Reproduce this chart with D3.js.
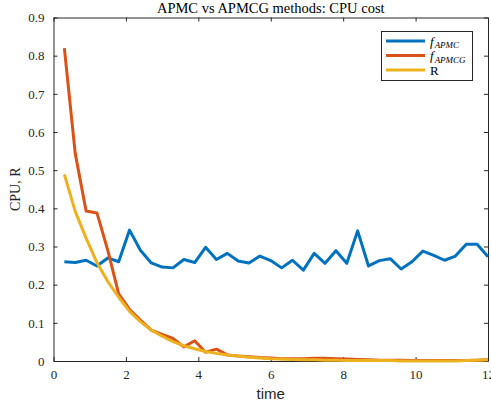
<!DOCTYPE html>
<html><head><meta charset="utf-8">
<script src="https://cdn.jsdelivr.net/npm/d3@7"></script>
<style>body{margin:0;background:#fff}svg{display:block}</style>
</head><body><svg id="c" width="491" height="407"></svg>
<script>
const time = [0.3,0.6,0.9,1.2,1.5,1.8,2.1,2.4,2.7,3.0,3.3,3.6,3.9,4.2,4.5,4.8,5.1,5.4,5.7,6.0,
  6.3,6.6,6.9,7.2,7.5,7.8,8.1,8.4,8.7,9.0,9.3,9.6,9.9,10.2,10.5,10.8,11.1,11.4,11.7,12.0];
const fAPMC = [0.260,0.258,0.264,0.249,0.270,0.260,0.343,0.290,0.257,0.246,0.244,0.266,0.258,0.298,0.266,0.282,0.262,0.257,0.275,0.263,
  0.244,0.264,0.238,0.282,0.256,0.289,0.256,0.341,0.249,0.263,0.268,0.241,0.260,0.288,0.277,0.264,0.275,0.306,0.306,0.273];
const fAPMCG = [0.820,0.544,0.393,0.388,0.290,0.176,0.135,0.107,0.081,0.070,0.059,0.037,0.053,0.023,0.031,0.016,0.013,0.011,0.009,0.008,
  0.006,0.006,0.006,0.007,0.007,0.006,0.005,0.004,0.003,0.002,0.002,0.002,0.001,0.001,0.001,0.001,0.001,0.001,0.002,0.003];
const R = [0.489,0.392,0.322,0.258,0.208,0.167,0.130,0.103,0.081,0.065,0.051,0.040,0.032,0.025,0.020,0.016,0.013,0.010,0.008,0.006,
  0.005,0.004,0.003,0.003,0.002,0.002,0.001,0.001,0.001,0.001,0.001,0.000,0.000,0.000,0.000,0.000,0.000,0.001,0.002,0.003];
const xTicks = [0,2,4,6,8,10,12];
const yTicks = [0,0.1,0.2,0.3,0.4,0.5,0.6,0.7,0.8,0.9];
const seriesNames = ["APMC","APMCG","R"];
const colors = ["#0072BD","#D95319","#EDB120"];

const svg = d3.select("#c");
const L=53.5, Rt=488, T=17.5, B=361;
const x = d3.scaleLinear().domain([0,12]).range([L,Rt]);
const y = d3.scaleLinear().domain([0,0.9]).range([B,T]);
const axCol="#262626", serif="'Liberation Serif','DejaVu Serif',serif";

// axes
const gx = svg.append("g").attr("transform",`translate(0,${B})`)
  .call(d3.axisBottom(x).tickValues(xTicks).tickSizeInner(-4).tickSizeOuter(0).tickPadding(9));
const gxt = svg.append("g").attr("transform",`translate(0,${T})`)
  .call(d3.axisTop(x).tickValues(xTicks).tickSizeInner(-4).tickSizeOuter(0).tickFormat(""));
const gy = svg.append("g").attr("transform",`translate(${L},0)`)
  .call(d3.axisLeft(y).tickValues(yTicks).tickSizeInner(-4).tickSizeOuter(0).tickPadding(9).tickFormat(d=>d===0?"0":d3.format(".1f")(d)));
const gyr = svg.append("g").attr("transform",`translate(${Rt},0)`)
  .call(d3.axisRight(y).tickValues(yTicks).tickSizeInner(-4).tickSizeOuter(0).tickFormat(""));
[gx,gxt,gy,gyr].forEach(g=>{
  g.selectAll("path.domain").attr("stroke",axCol).attr("stroke-width",1);
  g.selectAll(".tick line").attr("stroke",axCol).attr("stroke-width",1);
  g.selectAll("text").attr("fill",axCol).attr("font-family",serif).attr("font-size",13);
});

// lines
const line = d3.line().x((d,i)=>x(time[i])).y(d=>y(d));
[fAPMC,fAPMCG,R].forEach((s,i)=>{
  svg.append("path").datum(s).attr("d",line).attr("fill","none")
    .attr("stroke",colors[i]).attr("stroke-width",3).attr("stroke-linejoin","round");
});

// title and labels
svg.append("text").attr("x",(L+Rt)/2).attr("y",12.5).attr("text-anchor","middle")
  .attr("font-family",serif).attr("font-size",14.5).attr("fill","#000").text("APMC vs APMCG methods: CPU cost");
svg.append("text").attr("x",(L+Rt)/2).attr("y",399).attr("text-anchor","middle")
  .attr("font-family","'Liberation Sans',Arial,sans-serif").attr("font-size",15).attr("fill",axCol).text("time");
svg.append("text").attr("transform",`translate(20,${(T+B)/2}) rotate(-90)`).attr("text-anchor","middle")
  .attr("font-family",serif).attr("font-size",14).attr("fill",axCol).text("CPU, R");

// legend
const lg = svg.append("g");
lg.append("rect").attr("x",381.5).attr("y",31.5).attr("width",91).attr("height",49)
  .attr("fill","#fff").attr("stroke",axCol).attr("stroke-width",1);
seriesNames.forEach((n,i)=>{
  const yy = 41 + i*14.5;
  lg.append("line").attr("x1",386).attr("x2",425).attr("y1",yy).attr("y2",yy)
    .attr("stroke",colors[i]).attr("stroke-width",3);
  const t = lg.append("text").attr("x",430).attr("y",yy+4.5).attr("font-family",serif)
    .attr("font-size",13).attr("fill","#000");
  if(n==="R"){ t.text("R"); }
  else {
    t.append("tspan").attr("font-style","italic").text("f");
    t.append("tspan").attr("font-style","italic").attr("font-size",9).attr("dy",2.5).attr("dx",1).text(n);
  }
});
</script></body></html>
